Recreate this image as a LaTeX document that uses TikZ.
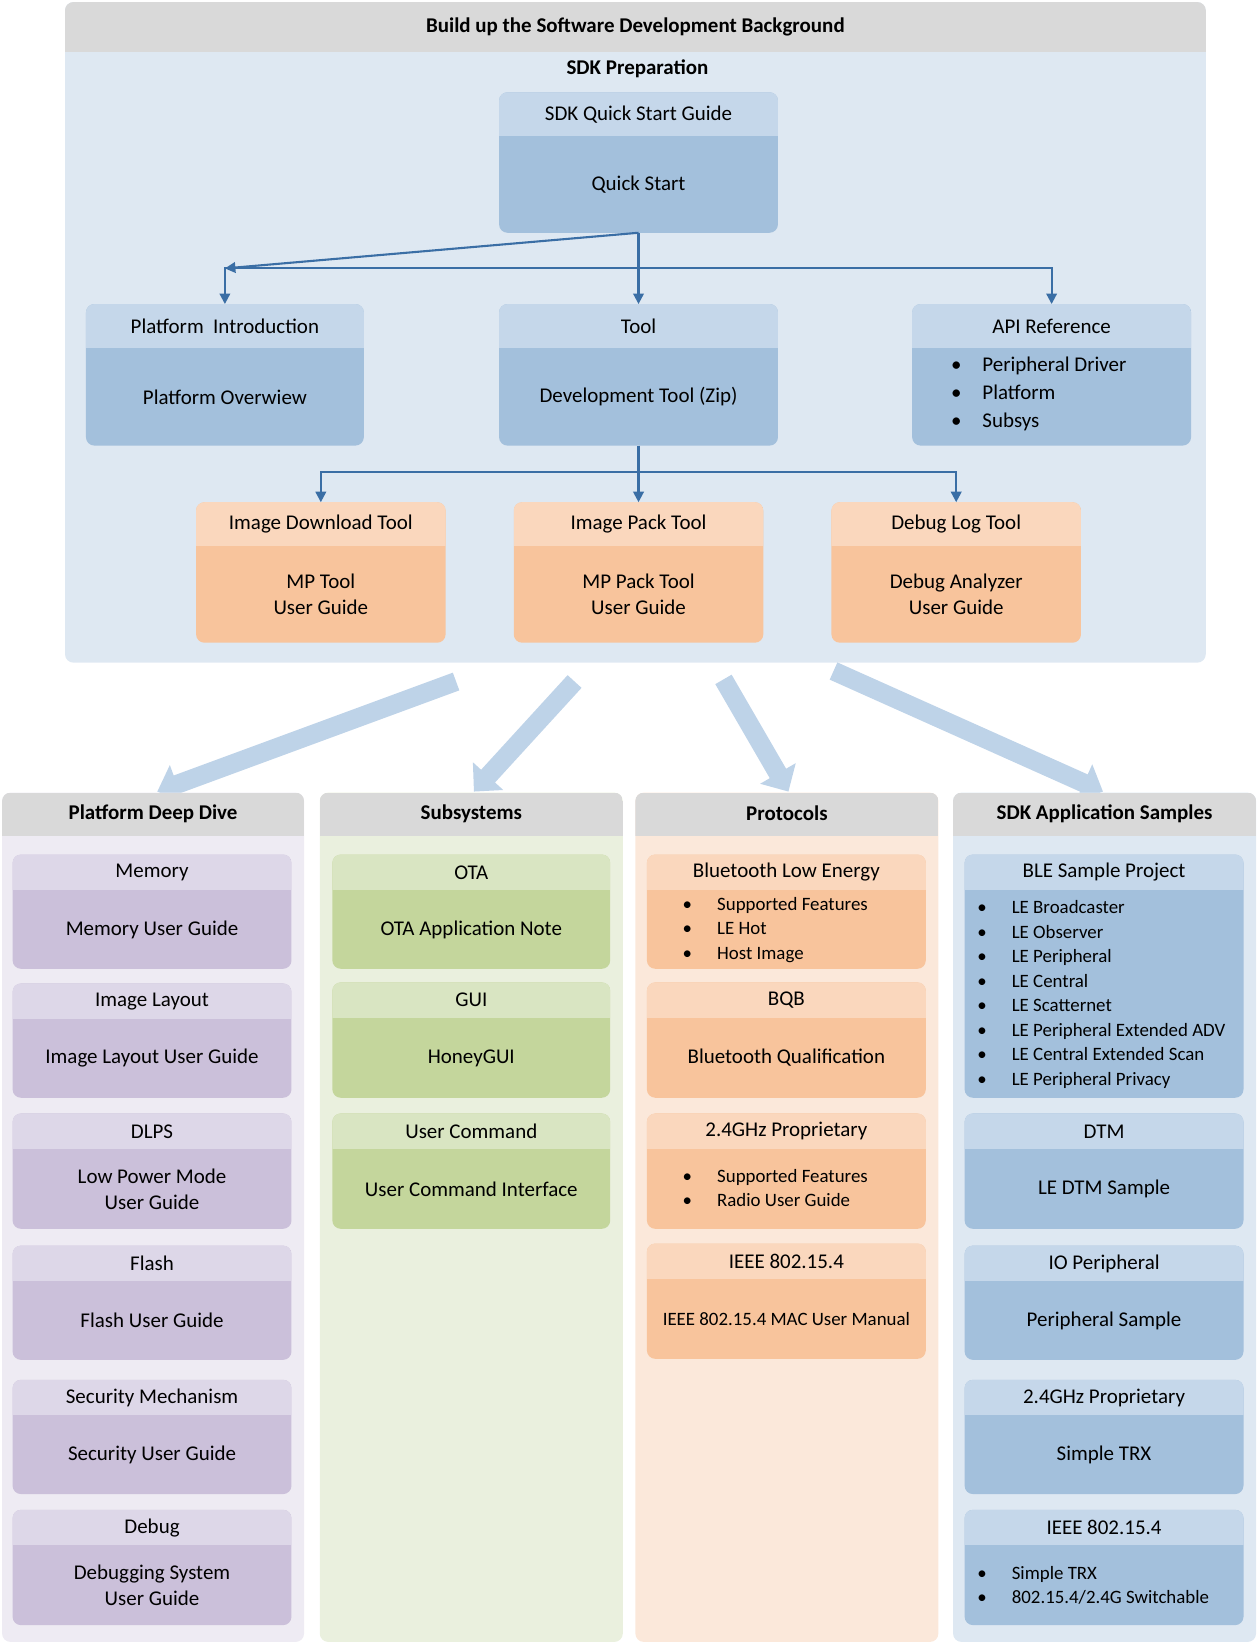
\documentclass[tikz,border=0pt]{standalone}
\usepackage{fontspec}
\setmainfont{Carlito}
\usetikzlibrary{arrows.meta}
\definecolor{bluebody}{HTML}{A3C0DC}\definecolor{bluehead}{HTML}{C5D7EA}
\definecolor{bluebg}{HTML}{DEE8F2}\definecolor{greyhead}{HTML}{D9D9D9}
\definecolor{orangebody}{HTML}{F8C49C}\definecolor{orangehead}{HTML}{FAD7BD}\definecolor{orangebg}{HTML}{FBE8DA}
\definecolor{purplebody}{HTML}{CBC0DA}\definecolor{purplehead}{HTML}{DDD7E8}\definecolor{purplebg}{HTML}{EEEBF3}
\definecolor{greenbody}{HTML}{C4D69C}\definecolor{greenhead}{HTML}{D9E5C2}\definecolor{greenbg}{HTML}{EAF0DE}
\definecolor{conncol}{HTML}{3A6EA5}\definecolor{bigarrow}{HTML}{BED3E8}
\newcommand\tf{\fontsize{10}{12.5}\selectfont}
\newcommand\lf{\fontsize{9}{11.7}\selectfont}
\newcommand\card[8]{%
\fill[#7body,rounded corners=4] (#2,#3) rectangle (#4,#5);
\begin{scope}\clip[rounded corners=4] (#2,#3) rectangle (#4,#5);\fill[#7head] (#2,#3) rectangle (#4,#6);\end{scope}
\node[font=\tf] (#1) at ({(#2+#4)/2},{(#3+#6)/2}) {#8};
\coordinate (#1b) at ({(#2+#4)/2},{(#6+#5)/2});
\coordinate (#1top) at ({(#2+#4)/2},#3);
\coordinate (#1bot) at ({(#2+#4)/2},#5);}
\newcommand\column[6]{% name x1 x2 colour title
\fill[#4bg,rounded corners=4] (#2,756) rectangle (#3,1566);
\begin{scope}\clip[rounded corners=4] (#2,756) rectangle (#3,1566);\fill[greyhead] (#2,756) rectangle (#3,797);\end{scope}
\node[font=\tf\bfseries] (#1) at ({(#2+#3)/2},776) {#5};}
\tikzset{body/.style={font=\tf,align=center},
 conn/.style={draw=conncol,line width=1pt,-{Triangle[width=5pt,length=5pt]}},
 big/.style={draw=bigarrow,line width=9pt,-{Triangle[width=19pt,length=10pt]}},
 lst/.style={anchor=west,align=left,font=\lf}}
\begin{document}
\begin{tikzpicture}[x=0.5pt,y=-0.5pt]
\useasboundingbox (0,0) rectangle (1200,1568);
% top panel
\fill[bluebg,rounded corners=4] (62,2) rectangle (1150,632);
\begin{scope}\clip[rounded corners=4] (62,2) rectangle (1150,632);\fill[greyhead] (62,2) rectangle (1150,50);\end{scope}
\node[font=\tf\bfseries] (title) at (606,26) {Build up the Software Development Background};
\node[font=\tf\bfseries] (prep) at (608,66) {SDK Preparation};
\card{qs}{476}{88}{742}{222}{130}{blue}{SDK Quick Start Guide}
\node[body] (qsB) at (qsb) {Quick Start};
\card{pi}{82}{290}{347}{425}{332}{blue}{Platform\ \ Introduction}
\node[body] (piB) at (pib) {Platform Overwiew};
\card{tool}{476}{290}{742}{425}{332}{blue}{Tool}
\node[body] (toolB) at (toolb) {Development Tool (Zip)};
\card{api}{870}{290}{1136}{425}{332}{blue}{API Reference}
\node[anchor=west,align=left,font=\tf] (apiB) at (900,376) {\textbullet\hspace{10pt}Peripheral Driver\\[0.8pt]\textbullet\hspace{10pt}Platform\\[0.8pt]\textbullet\hspace{10pt}Subsys};
\card{idt}{187}{479}{425}{613}{521}{orange}{Image Download Tool}
\node[body] (idtB) at (idtb) {MP Tool\\User Guide};
\card{ipt}{490}{479}{728}{613}{521}{orange}{Image Pack Tool}
\node[body] (iptB) at (iptb) {MP Pack Tool\\User Guide};
\card{dlt}{793}{479}{1031}{613}{521}{orange}{Debug Log Tool}
\node[body] (dltB) at (dltb) {Debug Analyzer\\User Guide};
\coordinate (j1) at (609,256);
\draw[conn] (qsbot) -- (pitop |- j1) ;
\draw[conn] (qsbot) -- (j1) -| (pitop);
\draw[conn] (j1) -| (apitop);
\draw[conn] (j1) -- (tooltop);
\coordinate (j2) at (609,450);
\draw[conn] (toolbot) -- (j2) -| (idttop);
\draw[conn] (j2) -| (dlttop);
\draw[conn] (j2) -- (ipttop);
% big arrows
\coordinate (a1s) at (435,650);\coordinate (a1e) at (150,755);
\coordinate (a2s) at (548,650);\coordinate (a2e) at (452,755);
\coordinate (a3s) at (690,648);\coordinate (a3e) at (752,755);
\coordinate (a4s) at (795,640);\coordinate (a4e) at (1052,755);
\draw[big] (a1s) -- (a1e);\draw[big] (a2s) -- (a2e);\draw[big] (a3s) -- (a3e);\draw[big] (a4s) -- (a4e);
% columns
\column{c1}{2}{290}{purple}{Platform Deep Dive}{}
\column{c2}{305}{594}{green}{Subsystems}{}
\column{c3}{606}{895}{orange}{Protocols}{}
\column{c4}{909}{1198}{blue}{SDK Application Samples}{}
% col1
\card{mem}{12}{815}{278}{924}{849}{purple}{Memory}\node[body] at (memb) {Memory User Guide};
\card{il}{12}{938}{278}{1047}{972}{purple}{Image Layout}\node[body] at (ilb) {Image Layout User Guide};
\card{dlps}{12}{1062}{278}{1172}{1096}{purple}{DLPS}\node[body] at (dlpsb) {Low Power Mode\\User Guide};
\card{fl}{12}{1188}{278}{1297}{1222}{purple}{Flash}\node[body] at (flb) {Flash User Guide};
\card{sec}{12}{1316}{278}{1425}{1350}{purple}{Security Mechanism}\node[body] at (secb) {Security User Guide};
\card{dbg}{12}{1440}{278}{1550}{1474}{purple}{Debug}\node[body] at (dbgb) {Debugging System\\User Guide};
% col2
\card{ota}{317}{815}{582}{924}{849}{green}{OTA}\node[body] at (otab) {OTA Application Note};
\card{gui}{317}{937}{582}{1047}{971}{green}{GUI}\node[body] at (guib) {HoneyGUI};
\card{uc}{317}{1062}{582}{1172}{1096}{green}{User Command}\node[body] at (ucb) {User Command Interface};
% col3
\card{ble}{617}{815}{883}{924}{849}{orange}{Bluetooth Low Energy}
\node[lst] at (644,887) {\textbullet\hspace{12pt}Supported Features\\\textbullet\hspace{12pt}LE Hot\\\textbullet\hspace{12pt}Host Image};
\card{bqb}{617}{937}{883}{1047}{971}{orange}{BQB}\node[body] at (bqbb) {Bluetooth Qualification};
\card{p24}{617}{1062}{883}{1172}{1096}{orange}{2.4GHz Proprietary}
\node[lst] at (644,1133) {\textbullet\hspace{12pt}Supported Features\\\textbullet\hspace{12pt}Radio User Guide};
\card{ieee}{617}{1186}{883}{1296}{1220}{orange}{IEEE 802.15.4}\node[body,font=\lf] at (ieeeb) {IEEE 802.15.4 MAC User Manual};
% col4
\card{bsp}{920}{815}{1186}{1047}{849}{blue}{BLE Sample Project}
\node[lst] at (925,948.5) {\textbullet\hspace{12pt}LE Broadcaster\\\textbullet\hspace{12pt}LE Observer\\\textbullet\hspace{12pt}LE Peripheral\\\textbullet\hspace{12pt}LE Central\\\textbullet\hspace{12pt}LE Scatternet\\\textbullet\hspace{12pt}LE Peripheral Extended ADV\\\textbullet\hspace{12pt}LE Central Extended Scan\\\textbullet\hspace{12pt}LE Peripheral Privacy};
\card{dtm}{920}{1062}{1186}{1172}{1096}{blue}{DTM}\node[body] at (dtmb) {LE DTM Sample};
\card{io}{920}{1188}{1186}{1297}{1222}{blue}{IO Peripheral}\node[body] at (iob) {Peripheral Sample};
\card{s24}{920}{1316}{1186}{1425}{1350}{blue}{2.4GHz Proprietary}\node[body] at (s24b) {Simple TRX};
\card{sie}{920}{1440}{1186}{1550}{1474}{blue}{IEEE 802.15.4}
\node[lst] at (925,1512) {\textbullet\hspace{12pt}Simple TRX\\\textbullet\hspace{12pt}802.15.4/2.4G Switchable};
\end{tikzpicture}
\end{document}
